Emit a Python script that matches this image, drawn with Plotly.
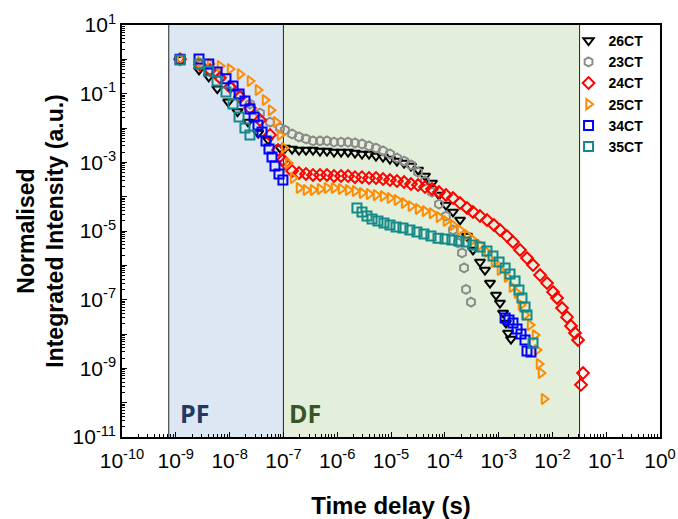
import plotly.graph_objects as go

# ---------------- data ----------------
series_names = ["26CT", "23CT", "24CT", "25CT", "34CT", "35CT"]

# shared gate times in the delayed-fluorescence region (s)
t_grid = [1.07e-7, 1.45e-7, 1.95e-7, 2.63e-7, 3.55e-7, 4.79e-7, 6.45e-7, 8.73e-7,
          1.18e-6, 1.59e-6, 2.14e-6, 2.89e-6, 3.90e-6, 5.26e-6, 7.10e-6, 9.57e-6,
          1.29e-5, 1.75e-5, 2.35e-5, 3.18e-5, 4.29e-5, 5.78e-5, 7.80e-5, 1.05e-4, 1.42e-4]

# 26CT
t26 = [1.2e-9, 2.7e-9, 4.1e-9, 5.9e-9, 9.4e-9, 1.4e-8, 2.2e-8, 3.4e-8, 5.2e-8, 8.7e-8] + t_grid + \
      [1.92e-4, 2.59e-4, 3.34e-4, 4.51e-4, 5.58e-4, 6.92e-4, 8.95e-4, 1.06e-3, 1.21e-3,
       1.37e-3, 1.50e-3, 1.70e-3]
I26 = [1.0, 0.49, 0.31, 0.14, 0.058, 0.030, 0.015, 7.1e-3, 4.5e-3, 2.6e-3,
       2.61e-3, 2.44e-3, 2.28e-3, 2.28e-3, 2.28e-3, 2.14e-3, 2.14e-3, 2.0e-3, 2.0e-3, 2.0e-3,
       1.87e-3, 1.75e-3, 1.75e-3, 1.53e-3, 1.43e-3, 1.25e-3, 1.09e-3, 9.5e-4, 7.8e-4, 6.0e-4,
       4.0e-4, 2.5e-4, 1.12e-4, 5.7e-5, 3.6e-5,
       2.1e-5, 7.1e-6, 2.8e-6, 1.25e-6, 7.3e-7, 3.05e-7, 1.36e-7, 8.0e-8, 4.1e-8, 2.1e-8,
       1.07e-8, 7.1e-9]

# 23CT
t23 = [1.2e-9, 2.82e-9, 4.33e-9, 6.64e-9, 1.02e-8, 1.56e-8, 2.39e-8, 3.67e-8, 5.64e-8, 8.65e-8] + t_grid + \
      [1.76e-4, 2.09e-4, 2.28e-4, 2.48e-4, 3.07e-4]
I23 = [1.0, 0.73, 0.49, 0.29, 0.167, 0.091, 0.050, 0.027, 0.0149, 1.0e-2,
       8.7e-3, 6.7e-3, 5.5e-3, 4.8e-3, 4.2e-3, 4.2e-3, 4.2e-3, 3.9e-3, 3.9e-3, 3.9e-3,
       3.66e-3, 3.42e-3, 2.99e-3, 2.61e-3, 2.14e-3, 1.75e-3, 1.34e-3, 1.09e-3, 8.4e-4, 5.2e-4,
       2.86e-4, 1.36e-4, 6.1e-5, 2.73e-5, 1.07e-5,
       4.5e-6, 2.3e-6, 8.4e-7, 2.0e-7, 8.5e-8]

# 24CT
t24 = [1.2e-9, 2.82e-9, 4.33e-9, 6.64e-9, 1.02e-8, 1.56e-8, 2.39e-8, 3.67e-8, 5.64e-8, 7.94e-8, 9.8e-8] + t_grid + \
      [1.92e-4, 2.59e-4, 3.34e-4, 4.51e-4, 6.08e-4, 8.2e-4, 1.06e-3, 1.43e-3, 1.85e-3, 2.50e-3,
       3.37e-3, 4.36e-3, 5.89e-3, 7.94e-3, 1.03e-2, 1.22e-2, 1.51e-2, 1.87e-2, 2.22e-2, 2.63e-2,
       2.99e-2, 3.71e-2, 3.40e-2]
I24 = [1.0, 0.68, 0.49, 0.29, 0.156, 0.080, 0.038, 0.017, 6.3e-3, 2.28e-3, 1.17e-3,
       9.5e-4, 5.6e-4, 4.9e-4, 4.6e-4, 4.3e-4, 4.3e-4, 4.3e-4, 4.0e-4, 4.0e-4, 4.0e-4,
       3.7e-4, 3.7e-4, 3.5e-4, 3.5e-4, 3.27e-4, 3.05e-4, 2.86e-4, 2.67e-4, 2.33e-4, 2.18e-4,
       1.91e-4, 1.67e-4, 1.36e-4, 1.12e-4, 9.1e-5,
       6.5e-5, 4.7e-5, 3.6e-5, 2.73e-5, 2.1e-5, 1.49e-5, 1.07e-5, 7.1e-6, 4.8e-6, 2.8e-6,
       1.63e-6, 1.02e-6, 5.2e-7, 3.05e-7, 1.67e-7, 1.12e-7, 5.7e-8, 3.1e-8, 1.71e-8, 1.07e-8,
       6.7e-9, 7.3e-10, 3.3e-10]

# 25CT
t25 = [1.2e-9, 2.82e-9, 4.33e-9, 6.64e-9, 1.02e-8, 1.56e-8, 2.39e-8, 3.37e-8, 4.55e-8, 5.89e-8,
       7.28e-8, 8.65e-8, 1.03e-7, 1.22e-7, 1.51e-7, 1.95e-7] + t_grid[3:] + \
      [1.92e-4, 2.59e-4, 3.34e-4, 4.51e-4, 6.08e-4, 8.2e-4, 1.06e-3, 1.43e-3, 1.77e-3, 2.20e-3,
       2.61e-3, 3.10e-3, 3.84e-3, 4.75e-3, 5.18e-3, 5.64e-3, 6.14e-3, 6.98e-3]
I25 = [1.0, 0.84, 0.73, 0.64, 0.52, 0.37, 0.234, 0.128, 0.065, 0.033,
       0.0149, 6.3e-3, 2.61e-3, 9.5e-4, 3.5e-4, 1.79e-4,
       1.56e-4, 1.56e-4, 1.67e-4, 1.79e-4, 1.79e-4, 1.67e-4, 1.56e-4, 1.46e-4, 1.28e-4, 1.19e-4,
       1.12e-4, 1.04e-4, 9.1e-5, 8.0e-5, 6.5e-5, 5.3e-5, 4.4e-5, 3.8e-5, 3.3e-5, 2.55e-5,
       1.95e-5, 1.49e-5,
       1.07e-5, 7.6e-6, 5.5e-6, 3.9e-6, 2.44e-6, 1.25e-6, 7.3e-7, 4.6e-7, 2.33e-7, 1.56e-7,
       7.0e-8, 3.6e-8, 1.82e-8, 9.3e-9, 3.4e-9, 1.33e-9, 7.3e-10, 1.28e-10]

# 34CT
t34 = [1.2e-9, 2.70e-9, 4.1e-9, 5.84e-9, 8.57e-9, 1.16e-8, 1.50e-8, 1.93e-8, 2.39e-8, 2.85e-8,
       3.37e-8, 4.0e-8, 4.75e-8, 5.40e-8, 6.14e-8, 6.98e-8, 8.28e-8, 9.8e-8,
       1.32e-3, 1.56e-3, 1.85e-3, 2.20e-3, 2.61e-3, 3.10e-3, 3.37e-3, 4.0e-3]
I34 = [1.0, 1.02, 0.73, 0.43, 0.27, 0.167, 0.098, 0.061, 0.036, 0.021,
       0.0122, 7.6e-3, 4.2e-3, 2.44e-3, 1.43e-3, 7.8e-4, 4.6e-4, 3.05e-4,
       2.92e-8, 2.55e-8, 2.1e-8, 1.40e-8, 1.0e-8, 6.7e-9, 3.2e-9, 3.0e-9]

# 35CT
t35 = [1.2e-9, 2.7e-9, 4.1e-9, 5.84e-9, 8.57e-9, 1.16e-8, 1.5e-8, 1.93e-8, 2.39e-8,
       2.33e-6, 2.89e-6, 3.58e-6, 4.44e-6, 5.73e-6, 7.41e-6, 9.57e-6, 1.24e-5, 1.67e-5, 2.25e-5,
       3.04e-5, 4.10e-5, 5.53e-5, 7.48e-5, 1.01e-4, 1.36e-4, 1.84e-4, 2.48e-4, 3.34e-4, 4.51e-4,
       6.08e-4, 7.87e-4, 1.02e-3, 1.32e-3, 1.63e-3, 2.02e-3, 2.39e-3, 2.72e-3, 3.10e-3, 3.37e-3,
       4.36e-3]
I35 = [0.95, 0.73, 0.46, 0.234, 0.112, 0.050, 0.021, 0.010, 6.3e-3,
       4.7e-5, 3.6e-5, 2.73e-5, 2.23e-5, 1.95e-5, 1.71e-5, 1.49e-5, 1.31e-5, 1.22e-5, 1.07e-5,
       9.3e-6, 8.2e-6, 7.1e-6, 6.2e-6, 5.8e-6, 5.5e-6, 5.1e-6, 4.8e-6, 3.9e-6, 3.4e-6,
       2.6e-6, 1.87e-6, 1.25e-6, 8.4e-7, 5.6e-7, 3.5e-7, 1.91e-7, 1.12e-7, 6.1e-8, 3.6e-8,
       5.5e-9]

# region boundaries (s)
pf_start, df_start, df_end = 7.4e-10, 1.0e-7, 3.2e-2

x_exponents = list(range(-10, 1))
y_exponents = list(range(-11, 2))

# ---------------- figure ----------------
FONT = "Liberation Sans, Arial, sans-serif"
styles = [
    ("triangle-down-open", "#000000"),
    ("hexagon-open", "#8c8c8c"),
    ("diamond-open", "#ff0000"),
    ("triangle-right-open", "#ff8c00"),
    ("square-open", "#0000ff"),
    ("square-open", "#138a8a"),
]
data = [(t26, I26), (t23, I23), (t24, I24), (t25, I25), (t34, I34), (t35, I35)]

fig = go.Figure()
for name, (t, I), (sym, col) in zip(series_names, data, styles):
    fig.add_trace(go.Scatter(
        x=t, y=I, mode="markers", name=name,
        marker=dict(symbol=sym, size=9, color=col, line=dict(color=col, width=2)),
    ))

fig.add_shape(type="rect", xref="x", yref="paper", x0=pf_start, x1=df_start, y0=0, y1=1,
              fillcolor="#dde7f4", line_width=0, layer="below")
fig.add_shape(type="rect", xref="x", yref="paper", x0=df_start, x1=df_end, y0=0, y1=1,
              fillcolor="#e3efda", line_width=0, layer="below")
for xv in (pf_start, df_start, df_end):
    fig.add_shape(type="line", xref="x", yref="paper", x0=xv, x1=xv, y0=0, y1=1,
                  line=dict(color="#222222", width=1), layer="below")

fig.add_annotation(text="PF", xref="paper", yref="paper", x=0.105, y=0.058,
                   xanchor="left", yanchor="middle", showarrow=False,
                   font=dict(family="Open Sans, sans-serif", size=25, color="#1f3864", weight="bold"))
fig.add_annotation(text="DF", xref="paper", yref="paper", x=0.306, y=0.058,
                   xanchor="left", yanchor="middle", showarrow=False,
                   font=dict(family="Open Sans, sans-serif", size=25, color="#375623", weight="bold"))

x_minor = [k * 10.0 ** e for e in range(-10, 0) for k in range(2, 10)]
y_minor = [k * 10.0 ** e for e in range(-11, 1) for k in range(2, 10)]

fig.update_xaxes(
    type="log", range=[-10, 0], automargin=False,
    tickmode="array", tickvals=[10.0 ** e for e in x_exponents],
    ticktext=[f"10<sup>{e}</sup>" for e in x_exponents],
    ticks="inside", ticklen=5, tickwidth=1, tickcolor="black", ticklabelstandoff=4,
    minor=dict(tickmode="array", tickvals=x_minor, ticks="inside", ticklen=3, tickcolor="black", showgrid=False),
    showline=True, linecolor="black", linewidth=1.5, mirror=True, showgrid=False, zeroline=False,
    tickfont=dict(family=FONT, size=21, color="black"),
    title=dict(text="Time delay (s)", font=dict(family=FONT, size=24, color="black", weight="bold"), standoff=26),
)
fig.update_yaxes(
    type="log", range=[-11, 1], automargin=False,
    tickmode="array", tickvals=[10.0 ** e for e in y_exponents],
    ticktext=[f"10<sup>{e}</sup>" if e % 2 != 0 else "" for e in y_exponents],
    ticks="inside", ticklen=5, tickwidth=1, tickcolor="black",
    minor=dict(tickmode="array", tickvals=y_minor, ticks="inside", ticklen=3, tickcolor="black", showgrid=False),
    showline=True, linecolor="black", linewidth=1.5, mirror=True, showgrid=False, zeroline=False,
    tickfont=dict(family=FONT, size=21, color="black"),
    title=dict(text="Normalised<br>Integrated Intensity (a.u.)",
               font=dict(family=FONT, size=23, color="black", weight="bold"), standoff=2),
)

fig.update_layout(
    width=678, height=519,
    margin=dict(l=122, r=18, t=25, b=82),
    plot_bgcolor="white", paper_bgcolor="white",
    font=dict(family=FONT, color="black"),
    legend=dict(x=0.83, y=1.0, xanchor="left", yanchor="top",
                bgcolor="rgba(0,0,0,0)", borderwidth=0,
                font=dict(family=FONT, size=14, color="black", weight="bold"),
                itemwidth=30, tracegroupgap=0),
)

# remove the page's default body margin so the figure fills the window exactly
fig.write_html("out.html", config={"displayModeBar": False},
               post_script="document.body.style.margin='0';")
